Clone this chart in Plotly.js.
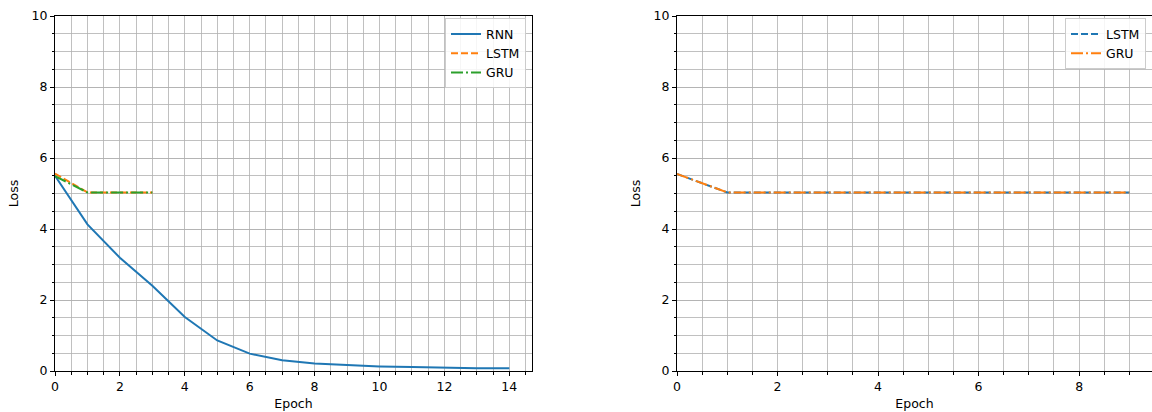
<!DOCTYPE html>
<html>
<head>
<meta charset="utf-8">
<script src="https://cdn.plot.ly/plotly-3.0.1.min.js"></script>
<style>html,body{margin:0;padding:0;background:#fff;}#chart{width:1152px;height:412px;}</style>
</head>
<body>
<div id="chart"></div>
<script>
// Left panel data
const epochsRNN = [0,1,2,3,4,5,6,7,8,9,10,11,12,13,14];
const lossRNN = [5.5,4.13,3.19,2.4,1.52,0.86,0.49,0.3,0.21,0.16,0.13,0.11,0.09,0.08,0.075];
const epochsShort = [0,1,2,3];
const lossLSTMLeft = [5.56,5.03,5.03,5.03];
const lossGRULeft = [5.49,5.03,5.03,5.03];
// Right panel data
const epochsLong = [0,1,2,3,4,5,6,7,8,9];
const lossLSTMRight = [5.55,5.03,5.03,5.03,5.03,5.03,5.03,5.03,5.03,5.03];
const lossGRURight = [5.55,5.03,5.03,5.03,5.03,5.03,5.03,5.03,5.03,5.03];
const yTicks = [0,2,4,6,8,10];

const BLUE='#1f77b4', ORANGE='#ff7f0e', GREEN='#2ca02c';
const DASH='7px,3px', DASHDOT='12px,3px,2px,3px';

const traces = [
  {x:epochsRNN, y:lossRNN, name:'RNN', mode:'lines', line:{color:BLUE,width:2}, xaxis:'x', yaxis:'y', legend:'legend'},
  {x:epochsShort, y:lossLSTMLeft, name:'LSTM', mode:'lines', line:{color:ORANGE,width:2,dash:DASH}, xaxis:'x', yaxis:'y', legend:'legend'},
  {x:epochsShort, y:lossGRULeft, name:'GRU', mode:'lines', line:{color:GREEN,width:2,dash:DASHDOT}, xaxis:'x', yaxis:'y', legend:'legend'},
  {x:epochsLong, y:lossLSTMRight, name:'LSTM', mode:'lines', line:{color:BLUE,width:2,dash:DASH}, xaxis:'x2', yaxis:'y2', legend:'legend2'},
  {x:epochsLong, y:lossGRURight, name:'GRU', mode:'lines', line:{color:ORANGE,width:2,dash:DASHDOT}, xaxis:'x2', yaxis:'y2', legend:'legend2'}
];

const font = {family:'DejaVu Sans, sans-serif', size:12.5, color:'#000'};
function xax(domain, range, anchor){
  return {domain:domain, range:range, anchor:anchor, dtick:2, tick0:0, ticks:'outside', ticklen:4, tickwidth:1, tickcolor:'#000',
    showline:true, mirror:true, linecolor:'#000', linewidth:1, zeroline:false,
    showgrid:true, gridcolor:'#b0b0b0', gridwidth:0.8,
    minor:{dtick:0.5, tick0:0, ticks:'outside', ticklen:2.5, tickcolor:'#000', showgrid:true, gridcolor:'#b0b0b0', gridwidth:0.8},
    title:{text:'Epoch', font:font, standoff:6}, tickfont:font, automargin:false, fixedrange:true};
}
function yax(anchor){
  return {domain:[0,1], range:[0,10], anchor:anchor, tickvals:yTicks, ticks:'outside', ticklen:4, tickwidth:1, tickcolor:'#000',
    showline:true, mirror:true, linecolor:'#000', linewidth:1, zeroline:false,
    showgrid:true, gridcolor:'#b0b0b0', gridwidth:0.8,
    minor:{dtick:0.5, tick0:0, ticks:'outside', ticklen:2.5, tickcolor:'#000', showgrid:true, gridcolor:'#b0b0b0', gridwidth:0.8},
    title:{text:'Loss', font:font, standoff:10}, tickfont:font, automargin:false, fixedrange:true};
}
const legendStyle = {bgcolor:'rgba(255,255,255,0.85)', bordercolor:'#cccccc', borderwidth:1, font:font, xanchor:'right', yanchor:'top', tracegroupgap:0, itemwidth:30};

const layout = {
  width:1152, height:412,
  margin:{l:55, r:0, t:16, b:41},
  paper_bgcolor:'#fff', plot_bgcolor:'#fff',
  font:font,
  xaxis: xax([0, 477/1097], [0, 14.7], 'y'),
  yaxis: yax('x'),
  xaxis2: xax([622/1097, 1], [0, 9.45], 'y2'),
  yaxis2: yax('x2'),
  legend: Object.assign({x:471/1097, y:0.993}, legendStyle),
  legend2: Object.assign({x:1091/1097, y:0.993}, legendStyle),
  showlegend:true
};

Plotly.newPlot('chart', traces, layout, {displayModeBar:false, staticPlot:true});
</script>
</body>
</html>
